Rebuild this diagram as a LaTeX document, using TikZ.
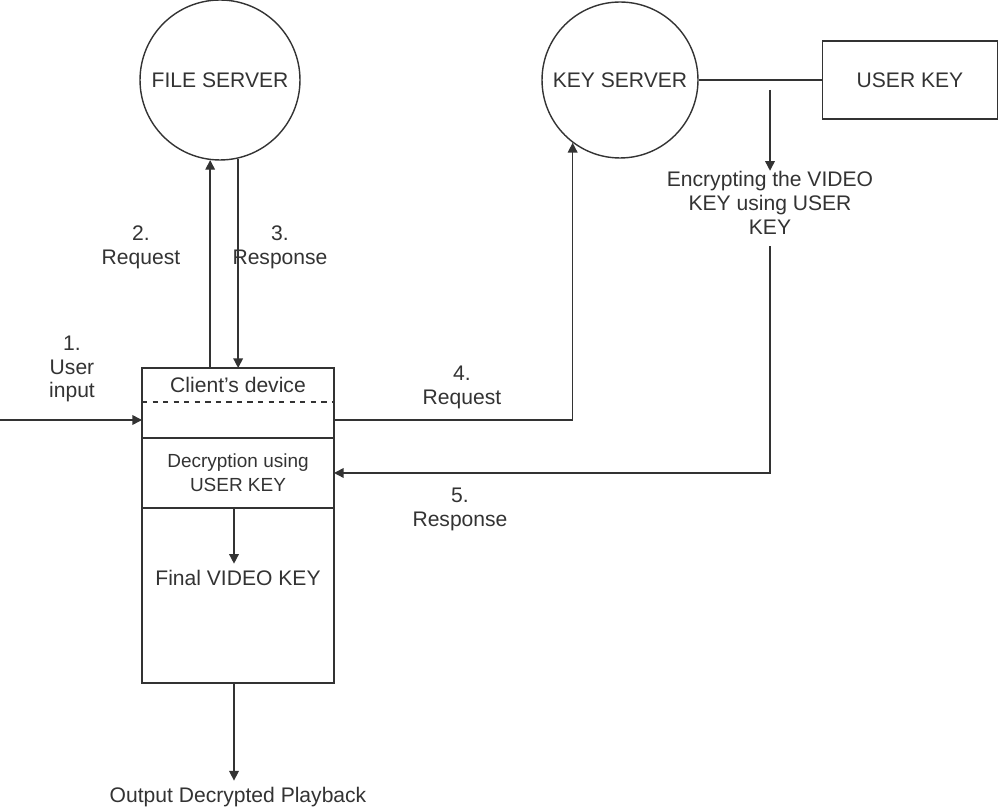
\documentclass[tikz,border=0pt]{standalone}
\usepackage{fontspec}
\setmainfont{Liberation Sans}
\usetikzlibrary{arrows.meta,positioning}

\begin{document}
\begin{tikzpicture}[
    x=0.02cm, y=-0.02cm,
    color=black!80, line width=0.8pt,
    font=\fontsize{12}{13.6}\selectfont,
    server/.style={circle, draw, minimum size=3.2cm, inner sep=0pt},
    part/.style={rectangle, draw, minimum width=3.84cm, minimum height=1.4cm, inner sep=0pt, outer sep=0pt, line width=1pt},
    lbl/.style={align=center, inner sep=1pt},
    arrow/.style={-{Triangle[length=5.5pt,width=5.5pt]}}
]
\useasboundingbox (0,0) rectangle (1000,810);

\node[server] (fileserver) at (220,80) {FILE SERVER};
\node[server, minimum size=3.12cm] (keyserver) at (620,80) {KEY SERVER};
\node[rectangle, draw, minimum width=3.5cm, minimum height=1.56cm] (userkey) at (910,80) {USER KEY};

% client's device
\node[part] (sec1) at (238,403) {};
\node[part, below=0pt of sec1] (sec2) {};
\node[part, minimum height=3.5cm, below=0pt of sec2] (sec3) {};
\coordinate (dash) at (0,402);
\draw[dashed] (sec1.west |- dash) -- (sec1.east |- dash);
\node (devname) at (238,385) {Client's device};
\node[lbl, font=\fontsize{10.8}{13.6}\selectfont] (dectext) at (sec2) {Decryption using\\USER KEY};
\node (final) at (238,578) {Final VIDEO KEY};
\node (out) at (238,797) {Output Decrypted Playback};
\node[lbl, inner sep=0pt] (enctext) at (770,203) {Encrypting the VIDEO\\KEY using USER\\KEY};

% labels
\node[lbl] (l1) at (72,369) {1.\\User\\input};
\node[lbl] (l2) at (141,247) {2.\\Request};
\node[lbl] (l3) at (280,247) {3.\\Response};
\node[lbl] (l4) at (462,387) {4.\\Request};
\node[lbl] (l5) at (460,509) {5.\\Response};

\coordinate (inp) at (0,420);
\coordinate (encstart) at (770,90);

\draw[arrow] (inp) -- (inp -| sec1.west);
\draw[arrow] (fileserver.-97 |- sec1.north) -- (fileserver.-97);
\draw[arrow] (fileserver.-77) -- (fileserver.-77 |- sec1.north);
\draw[arrow] (inp -| sec1.east) -| (keyserver.-127);
\draw (keyserver) -- (userkey);
\draw[arrow] (encstart) -- (encstart |- enctext.north);
\draw[arrow] ([yshift=-0.22cm]enctext.south) |- (sec2.east);
\draw[arrow] ([xshift=-0.08cm]sec3.north) -- ([xshift=-0.08cm]final.north);
\draw[arrow] ([xshift=-0.08cm]sec3.south) -- ([xshift=-0.08cm]out.north);
\end{tikzpicture}
\end{document}
